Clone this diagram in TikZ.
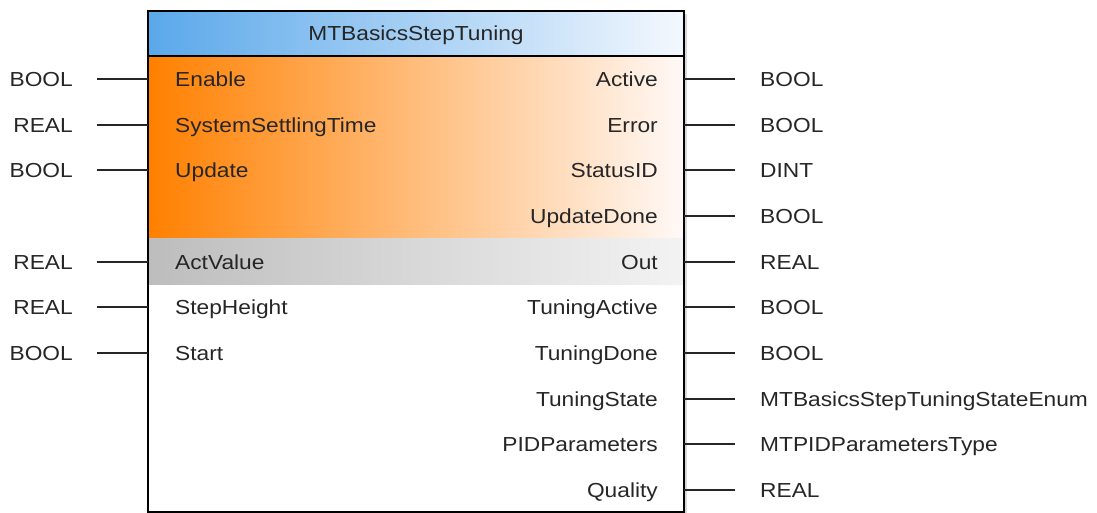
\documentclass[tikz,border=0pt]{standalone}
\usepackage{fontspec}
\setmainfont[FakeStretch=1.12]{Liberation Sans}
\definecolor{fbtext}{HTML}{262626}
\definecolor{fbblue}{HTML}{5AA8EA}
\definecolor{fbblueend}{HTML}{F4F8FE}
\definecolor{fborange}{HTML}{FF8000}
\definecolor{fborangeend}{HTML}{FFF9F7}
\definecolor{fbgrey}{HTML}{BDBDBD}
\definecolor{fbgreyend}{HTML}{F3F3F3}
\tikzset{
  pinname/.style={inner sep=0pt, text=fbtext, font=\fontsize{20.3}{22}\selectfont},
  typename/.style={inner sep=0pt, text=fbtext, font=\fontsize{20.3}{22}\selectfont},
  pinline/.style={line width=2pt, draw=black!85}
}
\begin{document}
\begin{tikzpicture}[x=1pt,y=-1pt]
\useasboundingbox (0,0) rectangle (1097,513);
% block body
\coordinate (nw) at (148,11);
\coordinate (se) at (684,512);
\fill[black!15] (151,14) rectangle (687,515);
\fill[white] (nw) rectangle (se);
\shade[left color=fbblue, right color=fbblueend] (148,11) rectangle (684,56);
\shade[left color=fborange, right color=fborangeend] (148,56) rectangle (684,238);
\shade[left color=fbgrey, right color=fbgreyend] (148,238) rectangle (684,284);
\draw[line width=2pt] (nw) rectangle (se);
\draw[line width=2pt] (148,56) -- (684,56);
\node[pinname, anchor=base] (title) at (416,41) {MTBasicsStepTuning};
% inputs
\foreach \n/\pin/\typ in {1/Enable/BOOL, 2/SystemSettlingTime/REAL, 3/Update/BOOL,
    5/ActValue/REAL, 6/StepHeight/REAL, 7/Start/BOOL} {
  \coordinate (lp\n) at (97,{79+(\n-1)*45.67});
  \node[pinname, anchor=base west] (in\n) at ([yshift=-7.5pt]lp\n -| 175,0) {\pin};
  \node[typename, anchor=base east] (lt\n) at ([yshift=-7.5pt]lp\n -| 73,0) {\typ};
  \draw[pinline] (lp\n) -- (lp\n -| nw);
}
% outputs
\foreach \n/\pin/\typ in {1/Active/BOOL, 2/Error/BOOL, 3/StatusID/DINT, 4/UpdateDone/BOOL,
    5/Out/REAL, 6/TuningActive/BOOL, 7/TuningDone/BOOL, 8/TuningState/MTBasicsStepTuningStateEnum,
    9/PIDParameters/MTPIDParametersType, 10/Quality/REAL} {
  \coordinate (rp\n) at (735,{79+(\n-1)*45.67});
  \node[pinname, anchor=base east] (out\n) at ([yshift=-7.5pt]rp\n -| 658,0) {\pin};
  \node[typename, anchor=base west] (rt\n) at ([yshift=-7.5pt]rp\n -| 760,0) {\typ};
  \draw[pinline] (rp\n -| se) -- (rp\n);
}
\end{tikzpicture}
\end{document}
